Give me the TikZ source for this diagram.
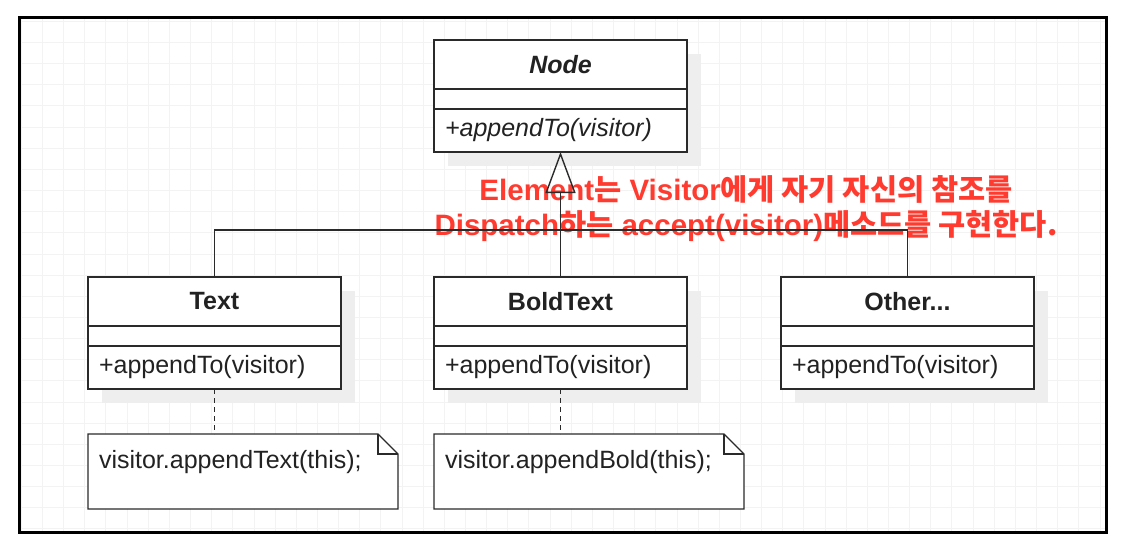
\documentclass[tikz,border=0pt]{standalone}
\usepackage{fontspec}
\setmainfont{Liberation Sans}
\newfontfamily\krfont{Noto Sans CJK KR}
\usetikzlibrary{arrows.meta, positioning}

\definecolor{gridgray}{HTML}{F3F3F3}
\definecolor{shadowgray}{HTML}{EEEEEE}
\definecolor{linegray}{HTML}{2A2A2A}
\definecolor{inkgray}{HTML}{222222}
\definecolor{remarkred}{HTML}{FF3B30}

\newcommand{\ko}[1]{{\krfont\bfseries #1}}

\tikzset{
  cls/.style={draw=linegray, line width=1.4pt, fill=white, minimum width=253pt,
    outer sep=0pt, inner sep=0pt, text=inkgray, font=\fontsize{25}{30}\selectfont},
  clsname/.style={cls, minimum height=49pt, font=\fontsize{25}{30}\selectfont\bfseries},
  clsattr/.style={cls, minimum height=20pt},
  clsops/.style={cls, minimum height=43pt, text width=231pt, align=left, inner xsep=11pt},
  notebox/.style={anchor=north west, text=inkgray, font=\fontsize{25}{30}\selectfont,
    text width=288pt, align=left, inner xsep=11pt, inner ysep=10pt,
    text height=24pt, text depth=31pt, outer sep=0pt},
  remark/.style={anchor=base, inner sep=0pt, text=remarkred,
    font=\fontsize{29.5}{34}\selectfont\bfseries},
  conn/.style={draw=linegray, line width=1.4pt},
}

\begin{document}
\begin{tikzpicture}[x=1pt, y=-1pt]

\pgfdeclarelayer{bg}    % grid and shadows
\pgfdeclarelayer{mid}   % note outlines
\pgfsetlayers{bg,mid,main}

\useasboundingbox (0,0) rectangle (1132,550);

% red remark goes under the connectors
\node (remark-a)[remark] at (746,200) {Element\ko{는} Visitor\ko{에게 자기 자신의 참조를}};
\node (remark-b)[remark] at (746,235) {Dispatch\ko{하는} accept(visitor)\ko{메소드를 구현한다.}};

% classes
\node (node-name)[clsname, anchor=north] at (560.5,40) {\itshape Node};
\node (node-attr)[clsattr, below=0pt of node-name] {};
\node (node-ops)[clsops, below=0pt of node-attr] {\itshape +appendTo(visitor)};

\node (text-name)[clsname, anchor=north] at (214.5,277) {Text};
\node (text-attr)[clsattr, below=0pt of text-name] {};
\node (text-ops)[clsops, below=0pt of text-attr] {+appendTo(visitor)};

\node (bold-name)[clsname, anchor=north] at (560.5,277) {BoldText};
\node (bold-attr)[clsattr, below=0pt of bold-name] {};
\node (bold-ops)[clsops, below=0pt of bold-attr] {+appendTo(visitor)};

\node (other-name)[clsname, anchor=north] at (907.5,277) {Other...};
\node (other-attr)[clsattr, below=0pt of other-name] {};
\node (other-ops)[clsops, below=0pt of other-attr] {+appendTo(visitor)};

% notes
\node (text-note)[notebox] at (88,434) {visitor.appendText(this);};
\node (bold-note)[notebox] at (434,434) {visitor.appendBold(this);};

\begin{pgfonlayer}{bg}
\draw[gridgray, line width=0.6pt, step=21.15pt] (19,17) grid (1106,532);
\foreach \c in {node, text, bold, other}
  \fill[shadowgray] ([shift={(14pt,-14pt)}]\c-name.north west) rectangle ([shift={(14pt,-14pt)}]\c-ops.south east);
\end{pgfonlayer}

\begin{pgfonlayer}{mid}
\foreach \n in {text-note, bold-note} {
  \filldraw[conn, fill=white] (\n.north west) -- ([xshift=-20pt]\n.north east) -- ([yshift=-20pt]\n.north east)
    -- (\n.south east) -- (\n.south west) -- cycle;
  \draw[conn] ([xshift=-20pt]\n.north east) |- ([yshift=-20pt]\n.north east);
}
\end{pgfonlayer}

% inheritance
\coordinate (join) at (560.5,230);
\draw[conn] (text-name.north) |- (join) -| (other-name.north);
\draw[conn, -{Triangle[open, length=41pt, width=30pt]}] (bold-name.north) -- (node-ops.south);

% note links
\draw[conn, dash pattern=on 5pt off 4pt] (text-ops.south) -- (text-ops.south |- text-note.north);
\draw[conn, dash pattern=on 5pt off 4pt] (bold-ops.south) -- (bold-ops.south |- bold-note.north);

\draw[black, line width=3pt] (19,17) rectangle (1106,532);
\end{tikzpicture}
\end{document}
